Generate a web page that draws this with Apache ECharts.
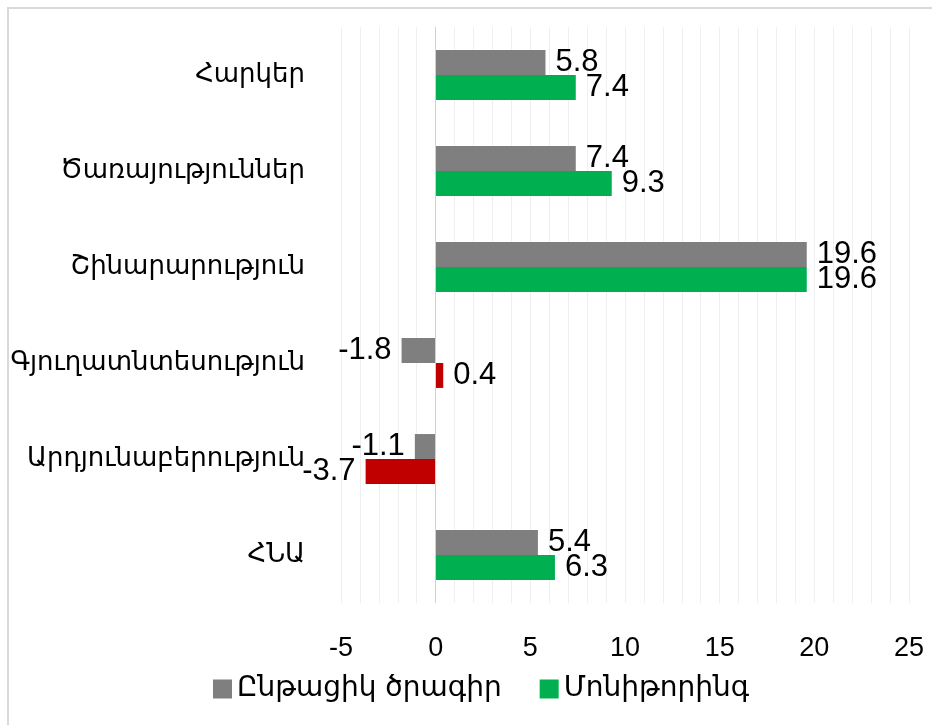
<!DOCTYPE html>
<html>
<head>
<meta charset="utf-8">
<script src="https://cdn.jsdelivr.net/npm/echarts@6/dist/echarts.min.js"></script>
<style>
  html, body { margin: 0; padding: 0; background: #fff; }
  #chart { width: 932px; height: 725px; }
</style>
</head>
<body>
<div id="chart"></div>
<script>
// ճյուղեր (վերևից ներքև)
var categories = ['Հարկեր', 'Ծառայություններ', 'Շինարարություն', 'Գյուղատնտեսություն', 'Արդյունաբերություն', 'ՀՆԱ'];
var seriesNames = ['Ընթացիկ ծրագիր', 'Մոնիթորինգ'];
var currentPlan = [5.8, 7.4, 19.6, -1.8, -1.1, 5.4];
var monitoring = [7.4, 9.3, 19.6, 0.4, -3.7, 6.3];
// կարմիրով նշված ճյուղերը
var redCats = ['Գյուղատնտեսություն', 'Արդյունաբերություն'];
var xTicks = [-5, 0, 5, 10, 15, 20, 25];

var GRAY = '#7f7f7f', GREEN = '#00b050', RED = '#c00000';
var LABEL_FONT = 'Liberation Sans, Arial, sans-serif';
var ARM_FONT = 'DejaVu Sans, sans-serif';

function makeData(vals, baseColor, highlight){
	return vals.map(function(v, i){
		var c = baseColor;
		if(highlight && redCats.indexOf(categories[i]) >= 0){ c = RED; }
		return {
			value: v,
			itemStyle: { color: c },
			label: { position: v < 0 ? 'left' : 'right' }
		};
	});
}

var myChart = echarts.init(document.getElementById('chart'));
var option = {
	animation: false,
	backgroundColor: '#fff',
	graphic: [{
		type: 'rect',
		shape: { x: 8, y: 8, width: 1000, height: 1000 },
		style: { fill: 'none', stroke: '#d9d9d9', lineWidth: 2 },
		silent: true
	}],
	grid: { left: 341, right: 23, top: 27, bottom: 122 },
	legend: {
		data: seriesNames,
		left: 208,
		bottom: 17,
		icon: 'rect',
		itemWidth: 19,
		itemHeight: 19,
		itemGap: 38,
		textStyle: { fontSize: 28, color: '#000', fontFamily: ARM_FONT }
	},
	xAxis: {
		type: 'value',
		min: -5,
		max: 25,
		interval: 1,
		axisLine: { show: false },
		axisTick: { show: false },
		axisLabel: {
			margin: 32,
			fontSize: 27,
			color: '#000',
			fontFamily: LABEL_FONT,
			formatter: function(val){
				return xTicks.indexOf(val) >= 0 ? String(val) : '';
			}
		},
		splitLine: { lineStyle: { color: '#efefef', width: 1 } }
	},
	yAxis: {
		type: 'category',
		data: categories,
		inverse: true,
		axisLine: { show: false },
		axisTick: { show: false },
		axisLabel: {
			margin: 36,
			fontSize: 26,
			color: '#000',
			fontFamily: ARM_FONT
		}
	},
	series: [
		{
			name: seriesNames[0],
			type: 'bar',
			barGap: '0%',
			barCategoryGap: '48%',
			itemStyle: { color: GRAY },
			label: {
				show: true,
				distance: 10,
				fontSize: 31,
				color: '#000',
				fontFamily: LABEL_FONT
			},
			data: makeData(currentPlan, GRAY, false),
			markLine: {
				silent: true,
				symbol: 'none',
				label: { show: false },
				lineStyle: { color: '#d0d0d0', type: 'solid', width: 1 },
				data: [{ xAxis: 0 }]
			}
		},
		{
			name: seriesNames[1],
			type: 'bar',
			barGap: '0%',
			barCategoryGap: '48%',
			itemStyle: { color: GREEN },
			label: {
				show: true,
				distance: 10,
				fontSize: 31,
				color: '#000',
				fontFamily: LABEL_FONT
			},
			data: makeData(monitoring, GREEN, true)
		}
	]
};
myChart.setOption(option);
</script>
</body>
</html>
